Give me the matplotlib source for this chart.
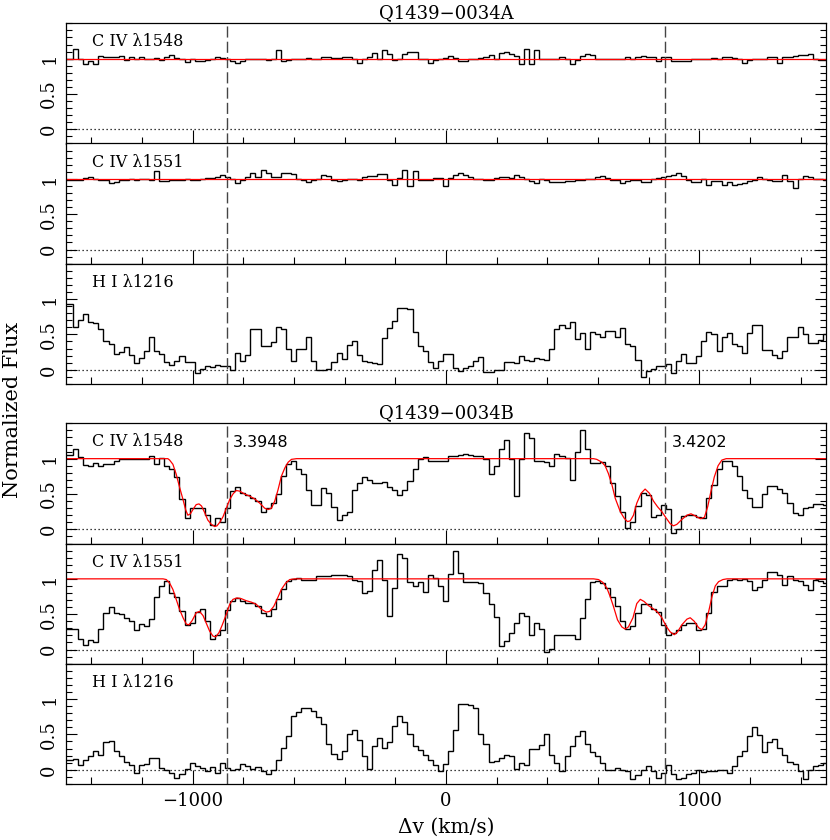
"""Velocity plots of C IV and H I absorption towards the Q1439-0034 A/B pair."""

import numpy as np
import matplotlib

matplotlib.use("Agg")
import matplotlib.pyplot as plt
from matplotlib.ticker import MultipleLocator, FixedLocator, FuncFormatter

plt.rcParams["font.family"] = ["DejaVu Serif", "DejaVu Sans"]
plt.rcParams["mathtext.fontset"] = "dejavuserif"

# rebinned spectra: 150 pixels of 20 km/s starting at -1492 km/s
VEL_START = -1492.0
BIN_WIDTH = 20.0

FLUX_A_1548 = [
    1.00, 1.13, 1.00, 0.93, 0.96, 0.93, 1.04, 1.02, 1.02, 1.03,
    1.04, 0.98, 1.03, 0.99, 1.03, 1.00, 0.99, 1.01, 0.98, 1.03,
    1.05, 1.01, 0.99, 0.95, 1.00, 0.96, 0.96, 0.98, 1.00, 1.02,
    1.01, 1.00, 0.96, 0.94, 0.97, 0.99, 0.99, 1.00, 0.99, 0.98,
    1.00, 1.12, 0.97, 0.98, 1.00, 0.99, 0.99, 1.01, 0.99, 1.00,
    1.02, 1.02, 1.01, 1.01, 1.02, 1.02, 0.99, 0.94, 1.00, 1.02,
    1.08, 1.00, 1.12, 1.06, 0.98, 1.00, 1.07, 1.09, 1.10, 1.00,
    1.00, 0.94, 0.98, 1.00, 1.01, 1.04, 1.01, 0.96, 0.97, 1.00,
    1.00, 1.01, 1.02, 1.05, 1.00, 1.08, 1.09, 1.06, 1.04, 0.93,
    1.13, 0.93, 1.12, 1.00, 1.00, 1.00, 0.99, 1.03, 1.00, 0.93,
    0.98, 1.04, 1.06, 1.05, 1.00, 1.00, 0.99, 0.99, 1.00, 1.00,
    1.02, 1.00, 1.03, 1.04, 1.02, 1.03, 0.96, 1.03, 1.02, 0.96,
    0.96, 0.97, 0.97, 0.99, 1.00, 1.00, 1.00, 1.01, 1.00, 1.02,
    1.02, 1.01, 1.00, 0.94, 0.98, 0.99, 0.99, 1.00, 1.03, 1.03,
    0.94, 1.02, 1.03, 1.04, 1.05, 1.05, 1.06, 0.99, 0.98, 0.98,
]
FLUX_A_1551 = [
    0.98, 0.99, 0.99, 1.01, 1.02, 1.00, 0.99, 0.99, 0.94, 0.95,
    0.98, 0.99, 1.00, 0.99, 1.00, 1.00, 0.98, 1.11, 0.97, 0.97,
    0.99, 0.98, 0.99, 1.00, 0.99, 0.99, 1.00, 1.01, 1.01, 1.02,
    1.05, 1.02, 1.00, 0.94, 0.99, 1.03, 1.08, 1.02, 1.12, 1.08,
    1.03, 1.03, 1.08, 1.08, 1.07, 1.00, 0.99, 0.95, 0.99, 1.00,
    1.06, 1.04, 0.99, 0.97, 0.99, 1.00, 1.00, 0.99, 1.02, 1.04,
    1.04, 1.07, 1.07, 0.98, 0.92, 1.01, 1.13, 0.90, 1.11, 0.99,
    0.99, 0.98, 1.01, 1.01, 0.90, 1.01, 1.05, 1.08, 1.05, 1.03,
    1.00, 1.00, 0.99, 0.99, 1.01, 1.02, 1.02, 1.01, 1.05, 1.02,
    1.00, 0.97, 0.94, 1.00, 0.99, 0.95, 0.95, 0.95, 0.97, 0.97,
    0.99, 0.99, 1.00, 1.00, 1.03, 1.04, 1.01, 0.99, 0.99, 0.94,
    0.97, 0.98, 0.99, 0.96, 0.96, 1.00, 1.01, 1.02, 1.04, 1.06,
    1.08, 1.04, 0.99, 0.96, 0.96, 1.00, 0.92, 0.97, 0.97, 0.92,
    0.96, 0.92, 0.93, 0.94, 0.97, 0.98, 1.02, 1.00, 0.99, 0.97,
    0.97, 1.06, 0.97, 0.87, 1.00, 1.04, 1.03, 1.00, 1.00, 0.99,
]
FLUX_A_HI = [
    0.93, 0.61, 0.71, 0.79, 0.68, 0.66, 0.58, 0.40, 0.37, 0.22,
    0.25, 0.32, 0.21, 0.10, 0.17, 0.27, 0.46, 0.26, 0.22, 0.11,
    0.07, 0.13, 0.19, 0.11, 0.11, -0.04, 0.01, 0.06, 0.04, 0.07,
    0.06, 0.05, -0.01, 0.23, 0.12, 0.21, 0.57, 0.57, 0.33, 0.33,
    0.39, 0.60, 0.57, 0.29, 0.12, 0.29, 0.30, 0.47, 0.12, -0.01,
    0.00, 0.01, 0.11, 0.23, 0.15, 0.35, 0.41, 0.21, 0.13, 0.11,
    0.09, 0.08, 0.45, 0.59, 0.69, 0.88, 0.87, 0.86, 0.54, 0.33,
    0.26, 0.11, 0.02, 0.13, 0.22, 0.22, 0.02, -0.02, 0.03, 0.06,
    0.12, 0.18, -0.03, -0.03, 0.00, 0.00, 0.11, 0.11, 0.09, 0.20,
    0.14, 0.12, 0.16, 0.15, 0.14, 0.29, 0.58, 0.64, 0.59, 0.67,
    0.43, 0.52, 0.29, 0.53, 0.51, 0.47, 0.55, 0.55, 0.47, 0.59,
    0.37, 0.34, 0.14, -0.10, -0.02, 0.01, 0.05, 0.05, 0.08, -0.05,
    0.13, 0.22, 0.09, 0.10, 0.20, 0.40, 0.54, 0.50, 0.26, 0.47,
    0.52, 0.36, 0.33, 0.23, 0.52, 0.64, 0.64, 0.28, 0.28, 0.21,
    0.17, 0.27, 0.47, 0.47, 0.61, 0.51, 0.38, 0.38, 0.42, 0.50,
]
FLUX_B_1548 = [
    1.05, 1.13, 1.03, 0.91, 0.90, 0.94, 0.90, 0.92, 0.92, 0.97,
    0.99, 0.99, 0.99, 0.99, 1.00, 0.99, 1.04, 0.92, 1.01, 0.90,
    0.85, 0.74, 0.43, 0.16, 0.30, 0.30, 0.30, 0.20, 0.06, 0.16,
    0.11, 0.30, 0.54, 0.60, 0.51, 0.49, 0.44, 0.40, 0.25, 0.30,
    0.37, 0.50, 0.75, 0.92, 0.97, 0.85, 0.79, 0.55, 0.35, 0.35,
    0.59, 0.51, 0.32, 0.13, 0.20, 0.25, 0.56, 0.66, 0.74, 0.70,
    0.66, 0.66, 0.67, 0.60, 0.55, 0.48, 0.56, 0.68, 0.86, 0.99,
    1.02, 0.97, 0.96, 0.96, 0.97, 1.04, 1.04, 1.05, 1.07, 1.05,
    1.04, 1.04, 0.99, 0.79, 0.90, 1.14, 1.27, 1.00, 0.47, 1.00,
    1.36, 1.29, 0.97, 0.96, 0.95, 0.90, 1.06, 1.04, 1.01, 0.70,
    1.10, 1.40, 1.14, 0.94, 0.94, 0.95, 0.90, 0.66, 0.47, 0.25,
    0.02, 0.11, 0.33, 0.51, 0.49, 0.18, 0.20, 0.35, 0.29, -0.05,
    0.01, 0.19, 0.20, 0.20, 0.18, 0.16, 0.44, 0.63, 0.85, 0.97,
    0.96, 0.90, 0.75, 0.56, 0.44, 0.31, 0.31, 0.50, 0.62, 0.62,
    0.57, 0.52, 0.37, 0.23, 0.20, 0.30, 0.32, 0.36, 0.36, 0.34,
]
FLUX_B_1551 = [
    0.29, 0.29, 0.15, 0.07, 0.14, 0.11, 0.29, 0.52, 0.60, 0.52,
    0.50, 0.45, 0.41, 0.27, 0.36, 0.33, 0.43, 0.75, 0.90, 0.97,
    0.80, 0.75, 0.54, 0.35, 0.37, 0.53, 0.57, 0.40, 0.15, 0.21,
    0.27, 0.56, 0.68, 0.73, 0.68, 0.66, 0.66, 0.61, 0.52, 0.48,
    0.57, 0.71, 0.85, 0.97, 1.00, 1.01, 0.98, 0.98, 0.98, 1.04,
    1.04, 1.04, 1.06, 1.06, 1.06, 1.04, 0.99, 0.97, 0.80, 0.83,
    1.13, 1.26, 0.99, 0.47, 0.87, 1.35, 1.30, 0.95, 0.90, 0.95,
    0.81, 1.05, 1.01, 0.90, 0.69, 1.07, 1.39, 1.08, 0.95, 0.95,
    0.95, 0.94, 0.80, 0.64, 0.46, 0.05, 0.12, 0.24, 0.38, 0.52,
    0.47, 0.20, 0.37, 0.29, -0.04, 0.01, 0.21, 0.21, 0.20, 0.20,
    0.15, 0.45, 0.71, 0.95, 0.97, 0.94, 0.87, 0.75, 0.61, 0.40,
    0.29, 0.33, 0.52, 0.64, 0.64, 0.57, 0.53, 0.35, 0.21, 0.24,
    0.28, 0.35, 0.37, 0.37, 0.28, 0.29, 0.52, 0.81, 0.90, 0.90,
    0.99, 1.00, 0.98, 1.00, 0.97, 0.84, 0.89, 0.99, 1.10, 1.10,
    1.06, 0.92, 1.04, 0.99, 0.97, 0.91, 0.84, 0.98, 0.97, 0.94,
]
FLUX_B_HI = [
    0.14, 0.15, 0.07, 0.14, 0.19, 0.26, 0.21, 0.39, 0.41, 0.26,
    0.19, 0.11, 0.07, -0.05, 0.07, 0.08, 0.17, 0.17, 0.02, 0.00,
    -0.05, -0.12, -0.06, 0.01, 0.09, 0.06, 0.02, -0.02, 0.04, -0.05,
    0.09, 0.02, 0.00, 0.01, 0.08, 0.06, 0.01, 0.04, -0.02, -0.06,
    -0.01, 0.14, 0.31, 0.48, 0.76, 0.82, 0.87, 0.87, 0.83, 0.74,
    0.65, 0.36, 0.22, 0.15, 0.26, 0.50, 0.56, 0.42, 0.19, 0.01,
    0.34, 0.45, 0.31, 0.39, 0.62, 0.76, 0.68, 0.51, 0.33, 0.28,
    0.21, 0.14, 0.07, -0.02, 0.08, 0.26, 0.56, 0.93, 0.93, 0.92,
    0.88, 0.51, 0.36, 0.11, 0.13, 0.16, 0.21, 0.19, 0.01, 0.09,
    0.07, 0.29, 0.29, 0.35, 0.51, 0.21, 0.09, -0.02, 0.20, 0.34,
    0.48, 0.55, 0.37, 0.25, 0.20, 0.09, -0.01, 0.00, 0.02, 0.00,
    -0.02, -0.13, -0.08, 0.00, 0.06, -0.02, -0.12, -0.05, 0.07, -0.06,
    -0.13, -0.11, -0.06, -0.05, 0.00, -0.03, -0.02, -0.02, 0.00, -0.01,
    -0.05, 0.05, 0.19, 0.26, 0.48, 0.61, 0.49, 0.25, 0.39, 0.44,
    0.31, 0.21, 0.11, 0.08, -0.02, -0.13, -0.01, 0.06, 0.07, 0.09,
]

# Voigt-profile fits (red), sampled off the figure
MODEL_FLAT_V = [-1500, 1500]
MODEL_FLAT_F = [1.0, 1.0]
MODEL_B1548_V = [
    -1500, -1098, -1091, -1078, -1065, -1052, -1038, -1028, -1019, -1009,
    -999, -986, -975, -965, -953, -940, -926, -913, -904, -893,
    -880, -867, -854, -841, -828, -814, -795, -775, -755, -735,
    -716, -702, -689, -676, -663, -650, -636, -623, -610, -590,
    582, 595, 615, 628, 641, 655, 668, 688, 703, 716,
    727, 740, 753, 770, 786, 803, 819, 835, 852, 869,
    885, 898, 911, 931, 951, 967, 984, 1004, 1020, 1033,
    1046, 1059, 1074, 1089, 1106, 1500,
]
MODEL_B1548_F = [
    1.0, 1.0, 0.98, 0.92, 0.78, 0.60, 0.42, 0.28, 0.20, 0.22,
    0.28, 0.35, 0.36, 0.33, 0.24, 0.13, 0.07, 0.04, 0.05, 0.10,
    0.18, 0.30, 0.42, 0.50, 0.55, 0.54, 0.50, 0.47, 0.43, 0.37,
    0.30, 0.28, 0.30, 0.40, 0.56, 0.75, 0.87, 0.95, 0.99, 1.0,
    1.0, 0.99, 0.95, 0.90, 0.79, 0.63, 0.44, 0.25, 0.16, 0.11,
    0.12, 0.20, 0.37, 0.51, 0.57, 0.51, 0.40, 0.32, 0.25, 0.16,
    0.08, 0.05, 0.07, 0.14, 0.20, 0.22, 0.19, 0.15, 0.17, 0.32,
    0.54, 0.74, 0.90, 0.98, 1.0, 1.0,
]
MODEL_B1551_V = [
    -1500, -1117, -1104, -1091, -1078, -1065, -1052, -1038, -1025, -1015,
    -1002, -986, -973, -959, -946, -933, -920, -909, -896, -883,
    -867, -854, -841, -825, -808, -788, -768, -749, -729, -709,
    -696, -680, -667, -650, -633, -617, -597,
    582, 602, 619, 635, 648, 661, 677, 694, 707, 720,
    738, 753, 767, 782, 800, 817, 835, 852, 869, 885,
    901, 914, 931, 951, 964, 980, 997, 1010, 1023, 1037,
    1050, 1063, 1076, 1093, 1109, 1500,
]
MODEL_B1551_F = [
    1.0, 1.0, 0.99, 0.94, 0.85, 0.71, 0.57, 0.45, 0.36, 0.35,
    0.41, 0.52, 0.54, 0.48, 0.37, 0.26, 0.19, 0.18, 0.24, 0.35,
    0.50, 0.64, 0.71, 0.73, 0.72, 0.69, 0.67, 0.64, 0.57, 0.53,
    0.54, 0.61, 0.71, 0.85, 0.94, 0.99, 1.0,
    1.0, 0.99, 0.95, 0.87, 0.75, 0.61, 0.42, 0.32, 0.29, 0.32,
    0.45, 0.65, 0.71, 0.68, 0.62, 0.58, 0.53, 0.45, 0.33, 0.25,
    0.21, 0.25, 0.35, 0.43, 0.45, 0.40, 0.31, 0.28, 0.35, 0.54,
    0.75, 0.90, 0.96, 0.99, 1.0, 1.0,
]

TITLES = ["Q1439\u22120034A", "Q1439\u22120034B"]
LINE_LABELS = ["C IV \u03bb1548", "C IV \u03bb1551", "H I \u03bb1216"]
SYSTEM_VEL = [-866, 866]          # z = 3.3948 and z = 3.4202
SYSTEM_Z = ["3.3948", "3.4202"]

XMIN, XMAX = -1500, 1500
YMIN, YMAX = -0.2, 1.5

# figure geometry in pixels (830 x 840)
W, H = 830, 840
AX_LEFT, AX_RIGHT = 66, 826
GROUP_TOP = [23.3, 423.3]
PANEL_H = 120.2


def style_axis(ax, show_xlabels):
    ax.set_xlim(XMIN, XMAX)
    ax.set_ylim(YMIN, YMAX)
    ax.xaxis.set_major_locator(MultipleLocator(1000))
    ax.xaxis.set_minor_locator(MultipleLocator(200))
    ax.yaxis.set_major_locator(FixedLocator([0, 0.5, 1]))
    ax.yaxis.set_minor_locator(MultipleLocator(0.1))
    ax.yaxis.set_major_formatter(FuncFormatter(lambda v, _: f"{v:g}"))
    ax.xaxis.set_major_formatter(FuncFormatter(lambda v, _: f"{v:g}".replace("-", "\u2212")))
    ax.tick_params(which="both", direction="in", top=False, right=True, width=0.8, color="k")
    ax.tick_params(axis="x", which="major", length=10)
    ax.tick_params(axis="x", which="minor", length=5)
    ax.tick_params(axis="y", which="major", length=8)
    ax.tick_params(axis="y", which="minor", length=4.5)
    ax.tick_params(axis="y", labelrotation=90, pad=5.5, labelsize=13)
    ax.tick_params(axis="x", pad=6, labelsize=13, labelbottom=show_xlabels)
    for lab in ax.get_yticklabels():
        lab.set_va("center")
    for sp in ax.spines.values():
        sp.set_linewidth(0.9)


def draw_panel(ax, flux, label, model=None, z_labels=False, show_xlabels=False):
    flux = np.asarray(flux)
    edges = VEL_START + BIN_WIDTH * np.arange(len(flux) + 1)
    edges[0] = min(edges[0], XMIN)
    ax.axhline(0, color="k", lw=0.9, linestyle=(0, (1, 2.2)))
    for v in SYSTEM_VEL:
        ax.axvline(v, color="#444444", lw=1.0, dashes=(8, 3))
    ax.stairs(flux, edges, baseline=None, color="k", lw=1.0)
    if model is not None:
        ax.plot(model[0], model[1], color="#ff0000", lw=0.9)
    ax.text(0.034, 0.845, label, transform=ax.transAxes, ha="left", va="center", fontsize=11.5)
    if z_labels:
        # redshift tags sit just right of each dashed line
        for v, z in zip(SYSTEM_VEL, SYSTEM_Z):
            ax.annotate(z, (v, 0.837), xycoords=("data", "axes fraction"),
                        xytext=(4.5, 0), textcoords="offset points",
                        ha="left", va="center", fontsize=11.5, family="DejaVu Sans")
    style_axis(ax, show_xlabels)


def main():
    fig = plt.figure(figsize=(W / 100, H / 100), dpi=100)
    groups = [
        [(FLUX_A_1548, (MODEL_FLAT_V, MODEL_FLAT_F)),
         (FLUX_A_1551, (MODEL_FLAT_V, MODEL_FLAT_F)),
         (FLUX_A_HI, None)],
        [(FLUX_B_1548, (MODEL_B1548_V, MODEL_B1548_F)),
         (FLUX_B_1551, (MODEL_B1551_V, MODEL_B1551_F)),
         (FLUX_B_HI, None)],
    ]
    for g, panels in enumerate(groups):
        for i, (flux, model) in enumerate(panels):
            top = GROUP_TOP[g] + i * PANEL_H
            rect = [AX_LEFT / W, 1 - (top + PANEL_H) / H, (AX_RIGHT - AX_LEFT) / W, PANEL_H / H]
            ax = fig.add_axes(rect)
            draw_panel(ax, flux, LINE_LABELS[i], model,
                       z_labels=(g == 1 and i == 0),
                       show_xlabels=(g == 1 and i == 2))
        fig.text((AX_LEFT + AX_RIGHT) / 2 / W, 1 - (GROUP_TOP[g] - 5) / H, TITLES[g],
                 ha="center", va="baseline", fontsize=13)

    fig.text((AX_LEFT + AX_RIGHT) / 2 / W, 1 - 833 / H, "\u0394v (km/s)",
             ha="center", va="baseline", fontsize=14.5)
    fig.text(13 / W, 1 - 410 / H, "Normalized Flux", rotation=90,
             ha="center", va="center", fontsize=15)
    fig.savefig("out.png", dpi=100)


if __name__ == "__main__":
    main()
